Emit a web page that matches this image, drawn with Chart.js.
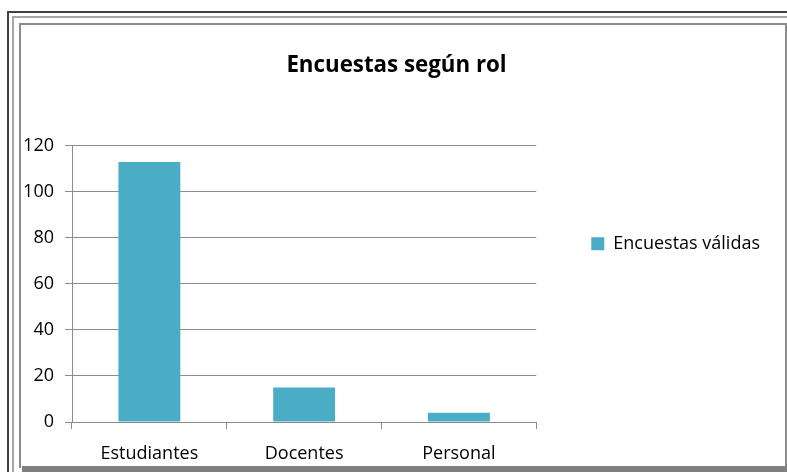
<!DOCTYPE html>
<html lang="es">
<head>
  <meta charset="UTF-8" />
  <title>Encuestas según rol</title>
  <script src="https://cdn.jsdelivr.net/npm/chart.js"></script>
  <style>
    body {
      margin: 0;
      background: #fff;
      width: 787px;
      height: 472px;
      overflow: hidden;
      position: relative;
    }
    .frame { position: absolute; box-sizing: border-box; }
    .f1 { left: 7px; top: 11px; width: 800px; height: 480px; border-left: 2px solid #404040; border-top: 2px solid #404040; }
    .f2 { left: 12px; top: 16px; width: 800px; height: 480px; border-left: 2px solid #a6a6a6; border-top: 2px solid #a6a6a6; }
    .f3 { left: 19px; top: 23px; width: 768px; height: 445px; border: 2px solid #8c8c8c; border-bottom: none; background: #fff; }
    .shadow { position: absolute; left: 22px; top: 466px; width: 765px; height: 6px; background: #808080; z-index: 2; }
    #wrap { position: absolute; left: 20px; top: 9px; width: 764px; height: 471px; z-index: 1; }
  </style>
</head>
<body>
  <div class="frame f1"></div>
  <div class="frame f2"></div>
  <div class="frame f3"></div>
  <div class="shadow"></div>
  <div id="wrap"><canvas id="chart"></canvas></div>

  <script>
    const categories = ["Estudiantes", "Docentes", "Personal"];
    const seriesLabel = "Encuestas válidas";
    const seriesValues = [113, 15, 4];
    const yTicks = [0, 20, 40, 60, 80, 100, 120];

    Chart.defaults.font.family = "'Open Sans', sans-serif";
    Chart.defaults.color = "#000";

    const axisGray = "#8c8c8c";

    new Chart(document.getElementById("chart"), {
      type: "bar",
      data: {
        labels: categories,
        datasets: [{
          label: seriesLabel,
          data: seriesValues,
          backgroundColor: "#4bacc6",
          borderWidth: 0,
          categoryPercentage: 1,
          barPercentage: 0.4
        }]
      },
      options: {
        responsive: true,
        maintainAspectRatio: false,
        animation: false,
        layout: { padding: { left: 3, right: 14, top: 0, bottom: 1.4 } },
        plugins: {
          title: {
            display: true,
            text: "Encuestas según rol",
            font: { size: 22.3, weight: "bold" },
            color: "#000",
            padding: { top: 43.6, bottom: 66.6 }
          },
          legend: {
            position: "right",
            maxWidth: 400,
            labels: {
              boxWidth: 13,
              boxHeight: 13,
              padding: 55,
              font: { size: 18 }
            }
          },
          tooltip: { enabled: false }
        },
        scales: {
          x: {
            grid: {
              drawOnChartArea: false,
              drawTicks: true,
              tickLength: 7,
              offset: true,
              color: axisGray
            },
            border: { color: axisGray },
            ticks: { font: { size: 18 }, padding: 14, color: "#000" }
          },
          y: {
            min: 0,
            max: 120,
            afterBuildTicks: axis => { axis.ticks = yTicks.map(v => ({ value: v })); },
            afterFit: axis => { axis.width = 49; },
            grid: { color: axisGray, tickLength: 7 },
            border: { color: axisGray },
            ticks: { font: { size: 18 }, padding: 11, color: "#000" }
          }
        }
      }
    });
  </script>
</body>
</html>
